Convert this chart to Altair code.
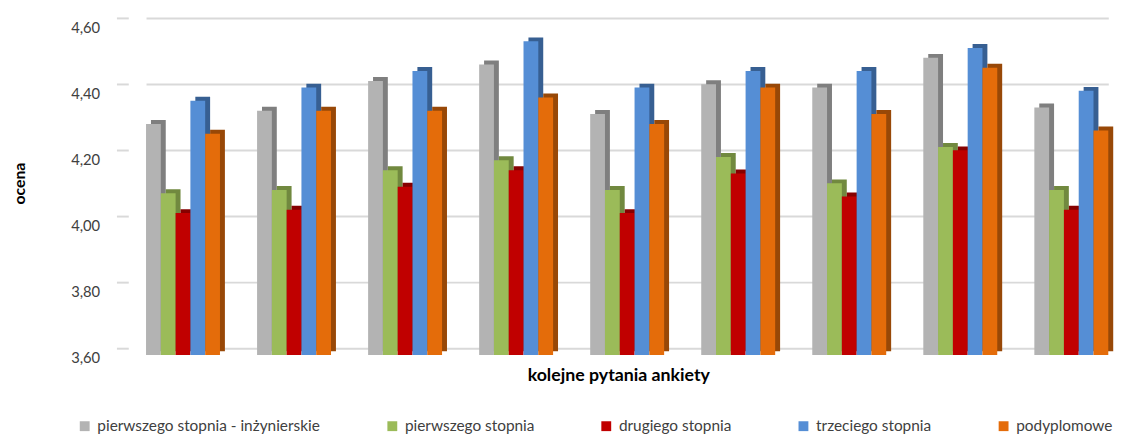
import altair as alt
import pandas as pd

questions = ["1", "2", "3", "4", "5", "6", "7", "8", "9"]
series = ["pierwszego stopnia - inżynierskie", "pierwszego stopnia", "drugiego stopnia",
          "trzeciego stopnia", "podyplomowe"]
v_inz = [4.30, 4.34, 4.43, 4.48, 4.33, 4.42, 4.41, 4.50, 4.35]
v_1st = [4.09, 4.10, 4.16, 4.19, 4.10, 4.20, 4.12, 4.23, 4.10]
v_2st = [4.03, 4.04, 4.11, 4.16, 4.03, 4.15, 4.08, 4.22, 4.04]
v_3st = [4.37, 4.41, 4.46, 4.55, 4.41, 4.46, 4.46, 4.53, 4.40]
v_pod = [4.27, 4.34, 4.34, 4.38, 4.30, 4.41, 4.33, 4.47, 4.28]
y_ticks = [3.6, 3.8, 4.0, 4.2, 4.4, 4.6]

front_colors = ["#b3b3b3", "#9bbb59", "#c00000", "#558ed5", "#e46c0a"]
side_colors = ["#7f7f7f", "#71893f", "#860000", "#375f92", "#984807"]

rows = []
for s, vals in zip(series, [v_inz, v_1st, v_2st, v_3st, v_pod]):
    for q, v in zip(questions, vals):
        rows.append({"pytanie": q, "seria": s, "ocena": v})
df = pd.DataFrame(rows)

FONT = "Lato"

x_enc = alt.X("pytanie:N", sort=questions,
              scale=alt.Scale(paddingInner=0.334, paddingOuter=0, range=[18, 994]),
              axis=alt.Axis(labels=False, ticks=False, domain=False, grid=False,
                            title="kolejne pytania ankiety", titleFont=FONT,
                            titleFontSize=18, titleFontWeight="bold", titleColor="#000000",
                            titlePadding=19, titleX=497))
y_axis = alt.Axis(values=y_ticks, labelExpr="replace(format(datum.value, '.2f'), '.', ',')",
                  title="ocena", titleFont=FONT, titleFontSize=16, titleFontWeight="bold",
                  titleColor="#000000", titleX=-110, titleBaseline="middle",
                  labelFont=FONT, labelFontSize=15, labelColor="#404040",
                  labelPadding=17, labelOffset=10,
                  domain=False, grid=True, gridColor="#d9d9d9", gridWidth=2,
                  ticks=True, tickColor="#d9d9d9", tickWidth=2, tickSize=12)
y_enc = alt.Y("ocena:Q", scale=alt.Scale(domain=[3.6, 4.6], zero=False, nice=False), axis=y_axis)

base = alt.Chart(df)

side = base.mark_bar(yOffset=3, y2Offset=3).encode(
    x=x_enc,
    xOffset=alt.XOffset("seria:N", sort=series,
                        scale=alt.Scale(domain=series, paddingInner=0, paddingOuter=0,
                                        range=[5, 80])),
    y=y_enc, y2=alt.datum(3.6),
    color=alt.Color("seria:N", sort=series,
                    scale=alt.Scale(domain=series, range=side_colors), legend=None),
)

front = base.mark_bar(yOffset=7, y2Offset=7).encode(
    x=x_enc,
    xOffset=alt.XOffset("seria:N", sort=series,
                        scale=alt.Scale(domain=series, paddingInner=0, paddingOuter=0,
                                        range=[0, 75])),
    y=y_enc, y2=alt.datum(3.6),
    color=alt.Color("seria:N", sort=series,
                    scale=alt.Scale(domain=series, range=front_colors),
                    legend=alt.Legend(orient="none", legendX=-52, legendY=406,
                                      direction="horizontal", columns=5, title=None,
                                      symbolType="square", symbolSize=100,
                                      symbolStrokeWidth=0, labelFont=FONT,
                                      labelFontSize=15.6, labelColor="#404040",
                                      labelLimit=400,
                                      columnPadding=65, labelOffset=5)),
)

chart = alt.layer(side, front).resolve_scale(color="independent", xOffset="independent").properties(
    width=1007, height=335,
    padding={"left": 122, "top": 7, "right": 8, "bottom": 86},
    autosize=alt.AutoSizeParams(type="none"),
    background="white",
).configure_view(stroke=None)

chart.save("out.html", embed_options={"renderer": "svg", "actions": False})
